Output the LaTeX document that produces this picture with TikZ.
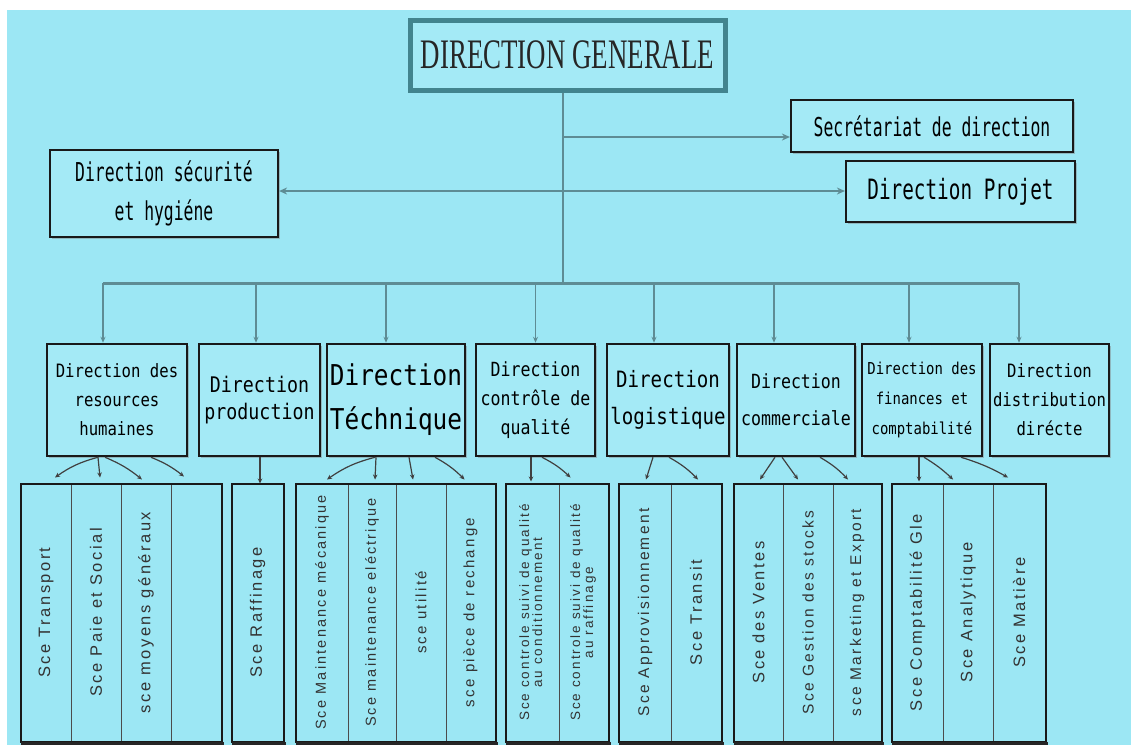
\documentclass[tikz,border=0pt]{standalone}
\usepackage{fontspec}
\usepackage{graphicx}
\setmainfont{Liberation Sans}
\newfontfamily\titlefont[FakeStretch=0.64]{Liberation Serif}
\newfontfamily\topfont[FakeStretch=0.63]{DejaVu Sans Mono}
\newfontfamily\prjfont[FakeStretch=0.69]{DejaVu Sans Mono}
\newfontfamily\dirfont[FakeStretch=0.85]{DejaVu Sans Mono}
\newfontfamily\svcfont[LetterSpace=15]{Liberation Sans}
\usetikzlibrary{calc,fit,shadows,arrows.meta}
\definecolor{bgc}{HTML}{9CE7F4}
\definecolor{boxfill}{HTML}{A4EAF6}
\definecolor{conn}{HTML}{5E8C94}
\definecolor{titleborder}{HTML}{42848E}
\tikzset{
  connline/.style={draw=conn, line width=1.6pt},
  bigarrow/.style={draw=conn, line width=2.6pt, -{Stealth[length=8pt,width=7pt]}},
  droparrow/.style={draw=conn, line width=1.4pt, -{Stealth[length=6pt,width=5pt]}},
  svcarrow/.style={draw=black!75, line width=1.2pt, -{Stealth[length=5pt,width=4.5pt]}},
  topbox/.style={draw=black!90, line width=2.2pt, fill=boxfill, inner sep=0pt, align=center,
    drop shadow={shadow xshift=1.5pt, shadow yshift=-1.5pt, opacity=0.45}},
  dirbox/.style={draw=black!90, line width=2.5pt, fill=boxfill, inner sep=0pt, align=center,
    minimum height=112pt, drop shadow={shadow xshift=1.5pt, shadow yshift=-1.5pt, opacity=0.45}},
  titlebox/.style={draw=titleborder, line width=5pt, fill=boxfill, inner sep=0pt,
    minimum width=315pt, minimum height=70pt, text=black!85,
    font=\titlefont\fontsize{42}{42}\selectfont,
    drop shadow={shadow xshift=2pt, shadow yshift=-2.5pt, opacity=0.4}},
  svc/.style={draw=black!70, line width=1pt, inner sep=0pt, minimum height=257pt, text=black!80,
    font=\svcfont\fontsize{16.5}{18}\selectfont},
  grp/.style={draw=black!90, line width=2pt, inner sep=0pt},
}
\newcommand{\vt}[1]{\rotatebox{90}{#1}}
\newcommand{\vtt}[2]{\rotatebox{90}{\begin{tabular}{@{}c@{}}#1\\[-2pt]#2\end{tabular}}}
\begin{document}
\begin{tikzpicture}[x=1pt,y=-1pt]
\useasboundingbox (0,0) rectangle (1131,745);
\fill[white] (0,0) rectangle (1131,745);
\fill[bgc] (7,10) rectangle (1131,745);

% top level
\node[titlebox] (DG) at (567.5,55) {DIRECTION GENERALE};
\node[topbox, minimum width=282pt, minimum height=52pt, font=\topfont\fontsize{26}{28}\selectfont]
  (SEC) at (932,126) {Secrétariat de direction};
\node[topbox, minimum width=229pt, minimum height=61pt, font=\prjfont\fontsize{28}{30}\selectfont]
  (PRJ) at (960.5,191.5) {Direction Projet};
\node[topbox, minimum width=228pt, minimum height=87pt, font=\topfont\fontsize{26}{39}\selectfont]
  (SEH) at (164,193.5) {Direction sécurité\\et hygiéne};

% directions
\node[dirbox, minimum width=140pt, font=\dirfont\fontsize{18.4}{29}\selectfont] (D1) at (117,400) {Direction des\\resources\\humaines};
\node[dirbox, minimum width=121pt, font=\dirfont\fontsize{21.5}{27}\selectfont] (D2) at (259.5,400) {Direction\\production};
\node[dirbox, minimum width=138pt, font=\dirfont\fontsize{28.7}{44}\selectfont] (D3) at (396,400) {Direction\\Téchnique};
\node[dirbox, minimum width=119pt, font=\dirfont\fontsize{19.5}{29}\selectfont] (D4) at (535.5,400) {Direction\\contrôle de\\qualité};
\node[dirbox, minimum width=122pt, font=\dirfont\fontsize{22.5}{37}\selectfont] (D5) at (668,400) {Direction\\logistique};
\node[dirbox, minimum width=118pt, font=\dirfont\fontsize{19.5}{37}\selectfont] (D6) at (796,400) {Direction\\commerciale};
\node[dirbox, minimum width=120pt, font=\dirfont\fontsize{16.4}{30}\selectfont] (D7) at (922,400) {Direction des\\finances et\\comptabilité};
\node[dirbox, minimum width=119pt, font=\dirfont\fontsize{18.4}{29}\selectfont] (D8) at (1049.5,400) {Direction\\distribution\\dirécte};

% trunk and side branches
\coordinate (bus) at (563,283);
\coordinate (j1) at (563,137);
\coordinate (j2) at (563,191);
\draw[connline] (bus |- DG.south) -- (bus);
\draw[bigarrow] (j1) -- (j1 -| SEC.west);
\draw[bigarrow] (j2) -- (j2 -| PRJ.west);
\draw[bigarrow] (j2) -- (j2 -| SEH.east);

% drops to directions
\coordinate (t1) at ($(D1.north)+(-14,0)$);
\coordinate (t2) at ($(D2.north)+(-3.5,0)$);
\coordinate (t3) at ($(D3.north)+(-10,0)$);
\coordinate (t4) at ($(D4.north)+(0,0)$);
\coordinate (t5) at ($(D5.north)+(-14,0)$);
\coordinate (t6) at ($(D6.north)+(-22,0)$);
\coordinate (t7) at ($(D7.north)+(-13,0)$);
\coordinate (t8) at ($(D8.north)+(-30.5,0)$);
\draw[draw=conn, line width=3pt] (t1 |- bus) -- (t8 |- bus);
\foreach \t in {t1,t2,t3,t4,t5,t6,t7,t8}{
  \draw[droparrow] (\t |- bus) -- (\t);
}

% services
\node[svc, minimum width=50pt] (c11) at (46,612.5) {\vt{Sce Transport}};
\node[svc, minimum width=50pt] (c12) at (96,612.5) {\vt{Sce Paie et Social}};
\node[svc, minimum width=50pt] (c13) at (146,612.5) {\vt{sce moyens généraux}};
\node[svc, minimum width=50pt] (c14) at (196,612.5) {};
\node[grp, fit=(c11)(c14)] (G1) {};

\node[svc, minimum width=51pt] (c21) at (257.5,612.5) {\vt{Sce Raffinage}};
\node[grp, fit=(c21)] (G2) {};

\node[svc, minimum width=52pt, font=\svcfont\fontsize{14.5}{16}\selectfont] (c31) at (322,612.5) {\vt{Sce Maintenance mécanique}};
\node[svc, minimum width=48pt, font=\svcfont\fontsize{14.5}{16}\selectfont] (c32) at (372,612.5) {\vt{Sce maintenance eléctrique}};
\node[svc, minimum width=50pt, font=\svcfont\fontsize{15}{16}\selectfont] (c33) at (421,612.5) {\vt{sce utilité}};
\node[svc, minimum width=49pt, font=\svcfont\fontsize{15}{16}\selectfont] (c34) at (470.5,612.5) {\vt{sce pièce de rechange}};
\node[grp, fit=(c31)(c34)] (G3) {};

\node[svc, minimum width=53pt, font=\svcfont\fontsize{13.5}{15}\selectfont] (c41) at (532.5,612.5) {\vtt{Sce controle suivi de qualité}{au conditionnement}};
\node[svc, minimum width=49pt, font=\svcfont\fontsize{13.5}{15}\selectfont] (c42) at (583.5,612.5) {\vtt{Sce controle suivi de qualité}{au raffinage}};
\node[grp, fit=(c41)(c42)] (G4) {};

\node[svc, minimum width=52pt, font=\svcfont\fontsize{15.5}{17}\selectfont] (c51) at (645,612.5) {\vt{Sce Approvisionnement}};
\node[svc, minimum width=50pt] (c52) at (696,612.5) {\vt{Sce Transit}};
\node[grp, fit=(c51)(c52)] (G5) {};

\node[svc, minimum width=49pt] (c61) at (758.5,612.5) {\vt{Sce des Ventes}};
\node[svc, minimum width=50pt, font=\svcfont\fontsize{15.5}{17}\selectfont] (c62) at (808,612.5) {\vt{Sce Gestion des stocks}};
\node[svc, minimum width=48pt, font=\svcfont\fontsize{15.5}{17}\selectfont] (c63) at (857,612.5) {\vt{sce Marketing et Export}};
\node[grp, fit=(c61)(c63)] (G6) {};

\node[svc, minimum width=51pt] (c71) at (917.5,612.5) {\vt{Sce Comptabilité Gle}};
\node[svc, minimum width=50pt] (c72) at (968,612.5) {\vt{Sce Analytique}};
\node[svc, minimum width=52pt] (c73) at (1019,612.5) {\vt{Sce Matière}};
\node[grp, fit=(c71)(c73)] (G7) {};

\foreach \g in {G1,G2,G3,G4,G5,G6,G7}{
  \draw[line width=3pt, black!85] ($(\g.south west)+(1,1)$) -- ($(\g.south east)+(1,1)$);
}

% arrows directions -> services
\draw[svcarrow] ($(D1.south)+(-19,0)$) to[bend right=10] ($(c11.north)+(9,-6)$);
\draw[svcarrow] ($(D1.south)+(-19,0)$) -- ($(c12.north)+(4,-6)$);
\draw[svcarrow] ($(D1.south)+(-12,0)$) to[bend left=8] ($(c13.north)+(-4,-4)$);
\draw[svcarrow] ($(D1.south)+(34,0)$) to[bend left=8] ($(c14.north)+(-12,-7)$);

\draw[svcarrow] ($(D2.south)+(0.5,0)$) -- ($(c21.north)+(2.5,0)$);

\draw[svcarrow] ($(D3.south)+(-21,0)$) to[bend right=10] ($(c31.north)+(5,-4)$);
\draw[svcarrow] ($(D3.south)+(-20,0)$) -- ($(c32.north)+(3,-4)$);
\draw[svcarrow] ($(D3.south)+(13,0)$) -- ($(c33.north)+(-8,-4)$);
\draw[svcarrow] ($(D3.south)+(39,0)$) to[bend left=8] ($(c34.north)+(-6,-4)$);

\draw[svcarrow] ($(D4.south)+(-4.5,0)$) -- ($(c41.north)+(-1.5,-2)$);
\draw[svcarrow] ($(D4.south)+(6.5,0)$) to[bend left=8] ($(c42.north)+(-13,-6)$);

\draw[svcarrow] ($(D5.south)+(-15,0)$) -- ($(c51.north)+(1,-4)$);
\draw[svcarrow] ($(D5.south)+(1,0)$) to[bend left=8] ($(c52.north)+(2,-4)$);

\draw[svcarrow] ($(D6.south)+(-21,0)$) -- ($(c61.north)+(1.5,-4)$);
\draw[svcarrow] ($(D6.south)+(-14,0)$) -- ($(c62.north)+(-10,-4)$);
\draw[svcarrow] ($(D6.south)+(24,0)$) to[bend left=8] ($(c63.north)+(-9,-4)$);

\draw[svcarrow] ($(D7.south)+(-3,0)$) -- ($(c71.north)+(1.5,-2)$);
\draw[svcarrow] ($(D7.south)+(2,0)$) to[bend left=6] ($(c72.north)+(-15,-4)$);
\draw[svcarrow] ($(D7.south)+(39,0)$) to[bend left=6] ($(c73.north)+(-11,-6)$);
\end{tikzpicture}
\end{document}
